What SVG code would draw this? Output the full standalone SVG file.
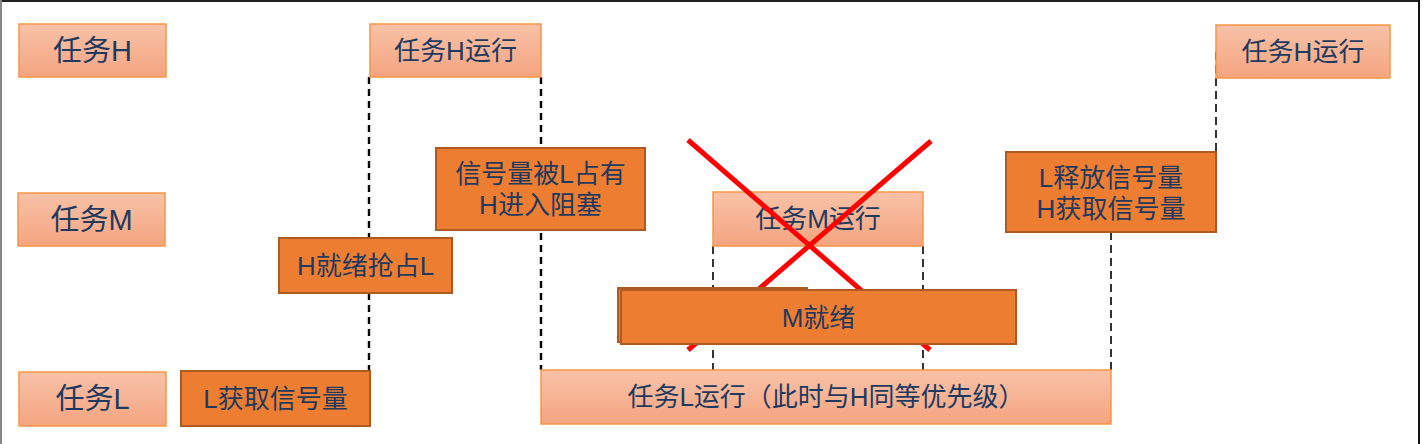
<svg xmlns="http://www.w3.org/2000/svg" width="1424" height="444" viewBox="0 0 1424 444">
<defs>
<linearGradient id="lg" x1="0" y1="0" x2="0" y2="1">
<stop offset="0" stop-color="#F8C2A8"/>
<stop offset="1" stop-color="#F4A47F"/>
</linearGradient>
<style>
.light{fill:url(#lg);stroke:#F79646;stroke-width:1.5}
.dark{fill:#ED7D31;stroke:#AE5A21;stroke-width:2}
.t{font-family:"Liberation Sans","Noto Sans CJK SC",sans-serif;fill:#1F3A60;text-anchor:middle;dominant-baseline:central;font-size:26px}
.big{font-size:29px}
.dash{stroke:#000;fill:none;stroke-dasharray:7 5}
.d1{stroke-width:2.4}
.d2{stroke-width:1.6;stroke-dasharray:8 5}
.x{stroke:#FF0000;stroke-width:5;stroke-linecap:butt}
</style>
</defs>
<rect x="0" y="0" width="1424" height="444" fill="#fff"/>
<g id="frame">
<line x1="0" y1="1" x2="1420" y2="1" stroke="#222" stroke-width="2"/>
<line x1="1" y1="0" x2="1" y2="444" stroke="#888" stroke-width="2"/>
<line x1="1419" y1="0" x2="1419" y2="444" stroke="#111" stroke-width="2"/>
</g>
<g id="connectors">
<line class="dash d1" x1="369" y1="77" x2="369" y2="371"/>
<line class="dash d1" x1="541" y1="77" x2="541" y2="370"/>
<line class="dash d2" x1="713" y1="246" x2="713" y2="370"/>
<line class="dash d2" x1="923" y1="246" x2="923" y2="370"/>
<line class="dash d2" x1="1111" y1="232" x2="1111" y2="370"/>
<line class="dash d2" x1="1216" y1="52" x2="1216" y2="152"/>
</g>
<g id="label-h"><rect class="light" x="19" y="24" width="147" height="53"/><text class="t big" x="92.5" y="50.5">任务H</text></g>
<g id="label-m"><rect class="light" x="18" y="193" width="147" height="53"/><text class="t big" x="91.5" y="219.5">任务M</text></g>
<g id="label-l"><rect class="light" x="19" y="372" width="147" height="54"/><text class="t big" x="92.5" y="399">任务L</text></g>
<g id="h-run-1"><rect class="light" x="370" y="24" width="171" height="53"/><text class="t" x="455.5" y="50.5">任务H运行</text></g>
<g id="sem-held"><rect class="dark" x="436" y="148" width="209" height="82"/><text class="t" x="540.5" y="174"><tspan x="540.5" y="174">信号量被L占有</tspan><tspan x="540.5" y="205">H进入阻塞</tspan></text></g>
<g id="h-ready"><rect class="dark" x="279" y="238" width="173" height="55"/><text class="t" x="365.5" y="265.5">H就绪抢占L</text></g>
<g id="l-acquire"><rect class="dark" x="181" y="371" width="189" height="55"/><text class="t" x="275.5" y="398.5">L获取信号量</text></g>
<g id="m-run"><rect class="light" x="713" y="192" width="210" height="54"/><text class="t" x="818" y="219">任务M运行</text></g>
<g id="cross">
<line class="x" x1="688" y1="140" x2="930" y2="350"/>
<line class="x" x1="931" y1="141" x2="688" y2="350"/>
</g>
<g id="m-ready">
<rect class="dark" x="618" y="288" width="189" height="54"/>
<rect class="dark" x="621" y="290" width="395" height="54"/>
<text class="t" x="818.5" y="318">M就绪</text>
</g>
<g id="l-run"><rect class="light" x="541" y="370" width="570" height="54"/><text class="t" x="826" y="397">任务L运行（此时与H同等优先级）</text></g>
<g id="release"><rect class="dark" x="1006" y="152" width="210" height="80"/><text class="t" x="1111" y="178"><tspan x="1111" y="178">L释放信号量</tspan><tspan x="1111" y="209">H获取信号量</tspan></text></g>
<g id="h-run-2"><rect class="light" x="1216" y="25" width="174" height="53"/><text class="t" x="1303" y="51.5">任务H运行</text></g>
</svg>
